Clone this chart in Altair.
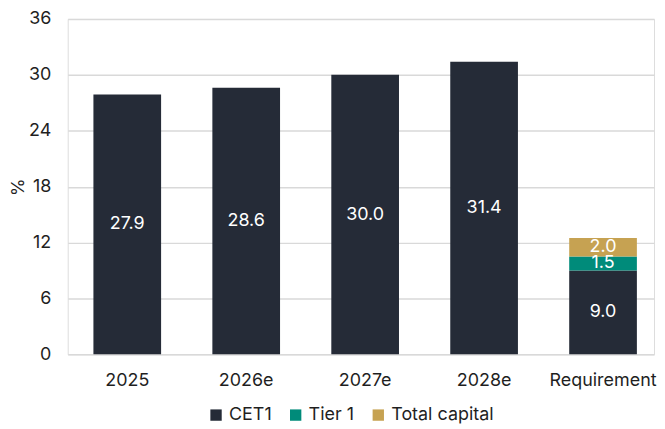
import altair as alt
import pandas as pd

categories = ["2025", "2026e", "2027e", "2028e", "Requirement"]
cet1 = [27.9, 28.6, 30.0, 31.4, 9.0]
tier1 = [0, 0, 0, 0, 1.5]
total_capital = [0, 0, 0, 0, 2.0]

series = ["CET1", "Tier 1", "Total capital"]
colors = ["#252b37", "#008b7a", "#c6a252"]

rows = []
for i, c in enumerate(categories):
    for k, (name, vals) in enumerate(zip(series, [cet1, tier1, total_capital])):
        if vals[i] > 0:
            rows.append({"cat": c, "series": name, "value": vals[i], "order": k})
df = pd.DataFrame(rows)

FONT = "Inter"
FS = 18

x = alt.X("cat:N", sort=categories, title=None,
          scale=alt.Scale(paddingInner=0.431, paddingOuter=0.18, align=0.6),
          axis=alt.Axis(labelAngle=0, labelFontSize=FS, labelColor="#1f1f1f",
                        labelPadding=17, ticks=False, domain=False, grid=False,
                        labelFont=FONT))

base = alt.Chart(df).transform_stack(
    stack="value", groupby=["cat"], as_=["y0", "y1"],
    sort=[alt.SortField("order", "ascending")]
).transform_calculate(mid="(datum.y0 + datum.y1) / 2")

bars = base.mark_bar().encode(
    x=x,
    y=alt.Y("y0:Q", title="%", scale=alt.Scale(domain=[0, 36], nice=False),
            axis=alt.Axis(values=[0, 6, 12, 18, 24, 30, 36], labelFontSize=FS,
                          labelColor="#1f1f1f", labelPadding=17, ticks=False,
                          domain=False, gridColor="#d9d9d9", gridWidth=1.5,
                          titleFontSize=FS, titleFontWeight="normal",
                          titleColor="#1f1f1f", titlePadding=1, labelFont=FONT,
                          titleFont=FONT)),
    y2="y1:Q",
    color=alt.Color("series:N", sort=series,
                    scale=alt.Scale(domain=series, range=colors),
                    legend=alt.Legend(title=None, orient="none", direction="horizontal",
                                      legendX=140, legendY=389,
                                      symbolType="square", symbolSize=130,
                                      symbolStrokeWidth=0, labelFontSize=FS,
                                      labelColor="#1f1f1f", columnPadding=15,
                                      labelFont=FONT)),
)

labels = base.mark_text(color="white", fontSize=FS, font=FONT).encode(
    x=alt.X("cat:N", sort=categories),
    y=alt.Y("mid:Q"),
    text=alt.Text("value:Q", format=".1f"),
)

chart = alt.layer(bars, labels).properties(
    width=589, height=337, padding={"top": 1, "left": 1, "right": 0, "bottom": 0}
).configure_view(stroke=None).configure(font=FONT)

chart.save("out.html", embed_options={"renderer": "svg", "actions": False})
